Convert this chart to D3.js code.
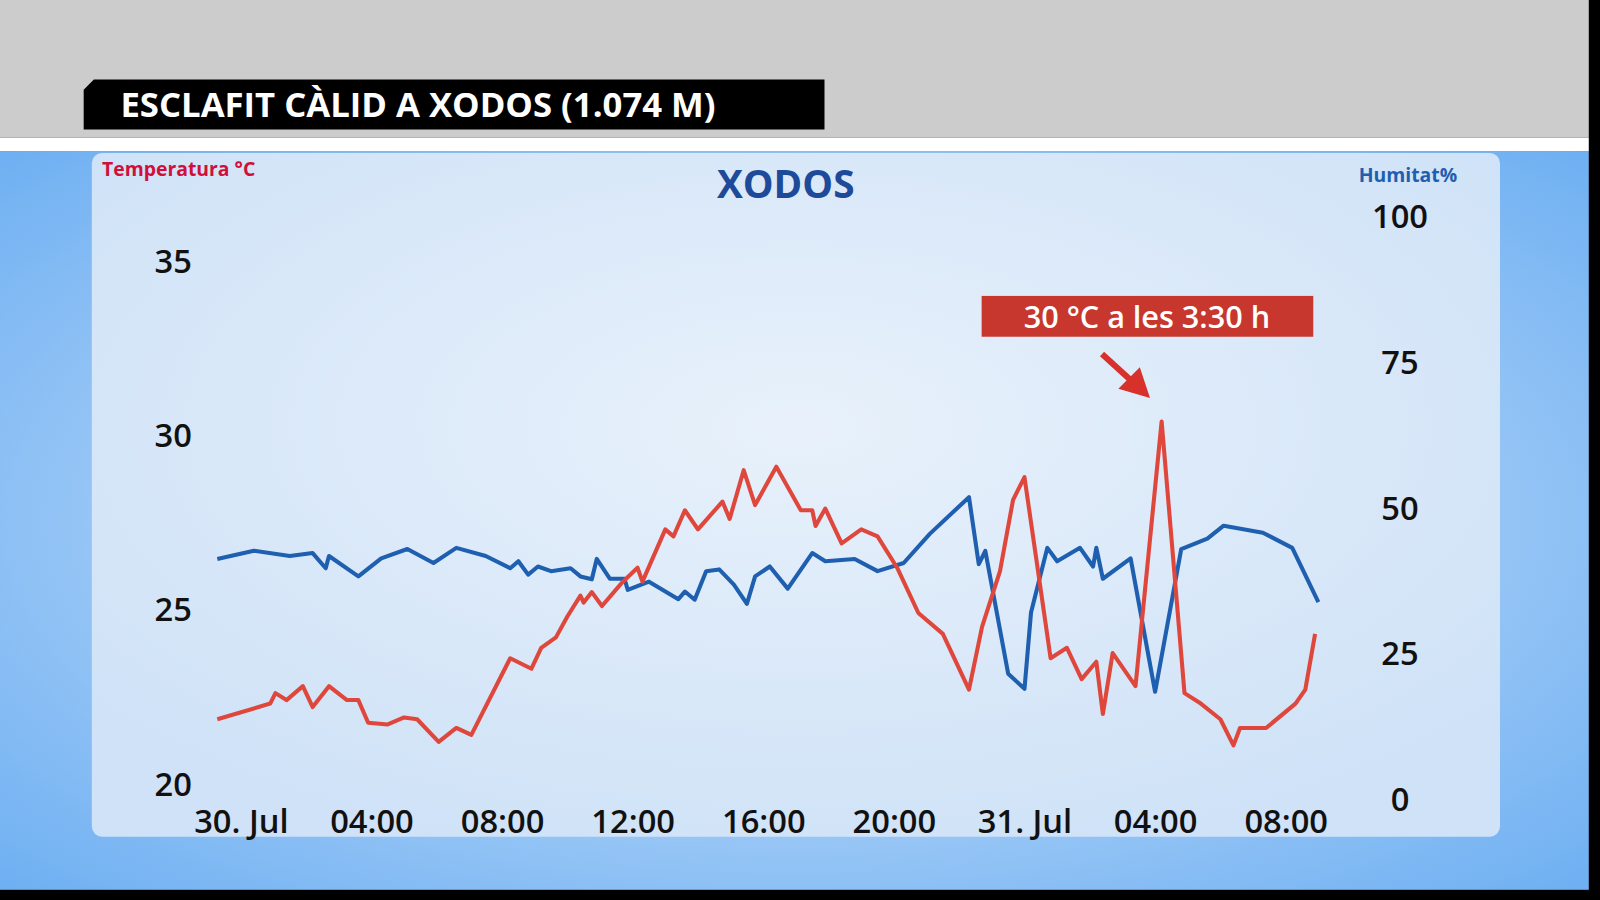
<!DOCTYPE html>
<html><head><meta charset="utf-8">
<script src="https://cdn.jsdelivr.net/npm/d3@7"></script>
<style>body{margin:0;background:#000;overflow:hidden}text{font-family:"Open Sans",sans-serif}</style>
</head><body>
<div id="chart"></div>
<script>
// hours relative to 30 Jul 00:00
const tempHours = [-0.72,0.9,1.06,1.4,1.9,2.2,2.7,3.25,3.6,3.9,4.5,5.0,5.4,6.06,6.6,7.06,8.25,8.9,9.2,9.65,10.0,10.4,10.5,10.75,11.06,11.7,12.15,12.3,13.0,13.25,13.6,14.0,14.75,14.97,15.4,15.75,16.4,17.15,17.5,17.6,17.9,18.4,19.0,19.5,20.1,20.75,21.5,22.3,22.7,23.25,23.65,24.0,24.8,25.3,25.75,26.2,26.4,26.7,27.4,28.2,28.9,29.4,30.0,30.4,30.6,31.4,32.3,32.6,32.9];
const tempValues = [21.85,22.3,22.6,22.4,22.8,22.2,22.8,22.4,22.4,21.75,21.7,21.9,21.85,21.2,21.6,21.4,23.6,23.3,23.9,24.2,24.8,25.4,25.2,25.5,25.1,25.8,26.2,25.8,27.3,27.1,27.85,27.3,28.1,27.6,29.0,28.0,29.1,27.85,27.85,27.4,27.9,26.9,27.3,27.1,26.2,24.9,24.3,22.7,24.5,26.1,28.15,28.8,23.6,23.9,23.0,23.5,22.0,23.75,22.8,30.4,22.6,22.3,21.85,21.1,21.6,21.6,22.3,22.7,24.3];
const humHours = [-0.72,0.4,1.5,2.2,2.6,2.7,3.6,4.3,5.1,5.9,6.6,7.5,8.25,8.5,8.8,9.1,9.5,10.1,10.4,10.75,10.9,11.3,11.75,11.85,12.5,13.4,13.6,13.9,14.25,14.65,15.1,15.5,15.75,16.2,16.75,17.5,17.9,18.8,19.5,20.3,21.1,22.3,22.6,22.8,23.5,24.0,24.2,24.7,25.0,25.7,26.1,26.2,26.4,27.25,28.0,28.8,29.6,30.1,31.3,32.2,33.0];
const humValues = [41.2,42.6,41.7,42.2,39.6,41.7,38.2,41.3,42.9,40.5,43.1,41.7,39.6,40.8,38.5,39.9,39.1,39.6,38.2,37.7,41.2,37.8,37.8,35.9,37.3,34.3,35.6,34.2,39.1,39.4,36.8,33.5,38.2,39.9,36.1,42.2,40.8,41.2,39.1,40.5,45.5,51.8,40.3,42.6,21.5,18.9,32.0,43.1,40.8,43.1,39.9,43.1,37.8,41.3,18.4,42.9,44.7,46.9,45.7,43.1,33.8];
const tempTicks = [20,25,30,35];
const humTicks = [0,25,50,75,100];
const timeTicks = [0,4,8,12,16,20,24,28,32];

const W = 1568, H = 882;
const t0 = new Date(2024,6,30,0,0);
const toDate = h => new Date(t0.getTime() + h*3600e3);

const svg = d3.select('#chart').append('svg')
  .attr('width',1600).attr('height',900).attr('viewBox',`0 0 ${W} ${H}`);
const defs = svg.append('defs');
const bg = defs.append('radialGradient').attr('id','bg').attr('cx','50%').attr('cy','50%').attr('r','70%');
bg.append('stop').attr('offset','0%').attr('stop-color','#d7e8fb');
bg.append('stop').attr('offset','100%').attr('stop-color','#6fb0f2');
const pg = defs.append('radialGradient').attr('id','pg').attr('cx','50%').attr('cy','40%').attr('r','65%');
pg.append('stop').attr('offset','0%').attr('stop-color','#e8f1fb');
pg.append('stop').attr('offset','100%').attr('stop-color','#cfe2f7');

svg.append('rect').attr('width',W).attr('height',H).attr('fill','#000');
svg.append('rect').attr('width',1557).attr('height',135).attr('fill','#cdcccd');
svg.append('rect').attr('y',135).attr('width',1557).attr('height',13).attr('fill','#fff');
svg.append('rect').attr('y',148).attr('width',1557).attr('height',724).attr('fill','url(#bg)');
svg.append('rect').attr('x',90).attr('y',150).attr('width',1380).attr('height',670).attr('rx',10).attr('fill','url(#pg)');

// title bar
svg.append('path').attr('d','M92,78 H808 V127 H82 V88 Z').attr('fill','#000');
svg.append('text').attr('x',118).attr('y',115).attr('fill','#fff').attr('font-size',34).attr('font-weight',700).text('ESCLAFIT CÀLID A XODOS (1.074 M)');

const x = d3.scaleTime().domain([toDate(0),toDate(32)]).range([236,1260]);
const yT = d3.scaleLinear().domain([20,35]).range([768,256]);
const yH = d3.scaleLinear().domain([0,100]).range([783,212]);

svg.append('text').attr('x',770).attr('y',194).attr('text-anchor','middle').attr('fill','#1e4a9a').attr('font-size',38).attr('font-weight',700).text('XODOS');
svg.append('text').attr('x',100).attr('y',172).attr('fill','#d0103a').attr('font-size',19).attr('font-weight',700).text('Temperatura °C');
svg.append('text').attr('x',1428).attr('y',178).attr('text-anchor','end').attr('fill','#1f5fb0').attr('font-size',19).attr('font-weight',700).text('Humitat%');

const axL = svg.append('g').attr('transform','translate(188,0)')
  .call(d3.axisLeft(yT).tickValues(tempTicks).tickSize(0).tickPadding(0));
const axR = svg.append('g').attr('transform','translate(1372,0)')
  .call(d3.axisRight(yH).tickValues(humTicks).tickSize(0).tickPadding(0));
axR.selectAll('text').attr('text-anchor','middle');
const fmt = d => d.getHours()===0 ? d3.timeFormat('%-d. Jul')(d) : d3.timeFormat('%H:%M')(d);
const axB = svg.append('g').attr('transform','translate(0,792)')
  .call(d3.axisBottom(x).tickValues(timeTicks.map(toDate)).tickFormat(fmt).tickSize(0).tickPadding(0));
[axL,axR,axB].forEach(a=>{
  a.select('.domain').remove();
  a.selectAll('text').attr('font-size',32).attr('font-weight',600).attr('fill','#111').attr('font-family','"Open Sans",sans-serif');
});
axL.selectAll('text').attr('dy','0.35em');
axR.selectAll('text').attr('dy','0.35em');
axB.selectAll('text').attr('dy','0.75em');

const lineT = d3.line().x((d,i)=>x(toDate(tempHours[i]))).y(d=>yT(d));
const lineH = d3.line().x((d,i)=>x(toDate(humHours[i]))).y(d=>yH(d));
svg.append('path').datum(humValues).attr('d',lineH).attr('fill','none').attr('stroke','#1f5fb0').attr('stroke-width',4).attr('stroke-linejoin','round');
svg.append('path').datum(tempValues).attr('d',lineT).attr('fill','none').attr('stroke','#e0473c').attr('stroke-width',4).attr('stroke-linejoin','round');

// annotation
svg.append('rect').attr('x',962).attr('y',290).attr('width',325).attr('height',40).attr('fill','#c8372d');
svg.append('text').attr('x',1124).attr('y',321).attr('text-anchor','middle').attr('fill','#fff').attr('font-size',30).attr('font-weight',600).text('30 °C a les 3:30 h');
svg.append('line').attr('x1',1080).attr('y1',347).attr('x2',1112).attr('y2',376).attr('stroke','#d8302a').attr('stroke-width',6);
svg.append('path').attr('d','M1127,390 L1096,381 L1117,360 Z').attr('fill','#d8302a');
</script>
</body></html>
